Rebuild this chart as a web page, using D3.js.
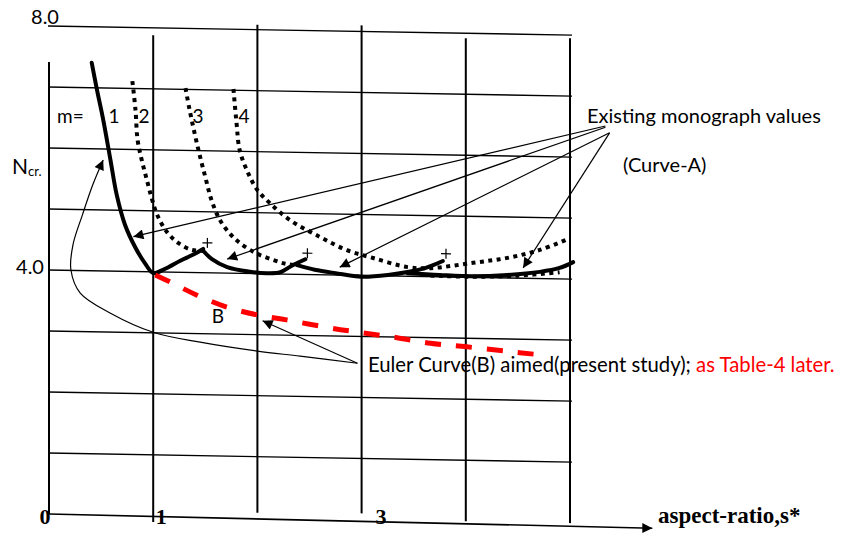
<!DOCTYPE html>
<html>
<head>
<meta charset="utf-8">
<script src="https://cdn.jsdelivr.net/npm/d3@7"></script>
<style>
  body { margin: 0; background: #fff; }
  svg { display: block; }
</style>
</head>
<body>
<svg id="chart" width="847" height="534"></svg>
<script>
// grid
var gridN = [1, 2, 3, 4, 5, 6, 7, 8];
var gridS = [0, 1, 2, 3, 4, 5];
var gridTop = [7.41, 7.88, 8.08, 8.1, 7.92, 7.95];
var gridBottom = [0, -0.1, 0.08, 0.1, 0, 0];

// Curve-A, solid envelope pieces (s*, Ncr)
var solidM1 = [[0.41, 7.41], [0.46, 6.97], [0.52, 6.48], [0.59, 5.82], [0.65, 5.25], [0.73, 4.76],
  [0.83, 4.39], [0.92, 4.14], [1.0, 3.98], [1.11, 4.05], [1.26, 4.19], [1.38, 4.29], [1.48, 4.39]];
var solidM2 = [[1.48, 4.36], [1.56, 4.23], [1.71, 4.10], [1.93, 4.03], [2.09, 4.01], [2.22, 4.03],
  [2.33, 4.14], [2.46, 4.25]];
var solidM3 = [[2.38, 4.15], [2.55, 4.08], [2.75, 4.03], [3.0, 3.98], [3.27, 4.02], [3.44, 4.07],
  [3.61, 4.14], [3.78, 4.26]];
var solidM4 = [[3.44, 4.05], [3.75, 4.03], [4.07, 4.02], [4.40, 4.05], [4.71, 4.11], [4.90, 4.18], [5.03, 4.28]];

// dotted m-curves
var dotM2 = [[0.80, 7.12], [0.83, 6.65], [0.85, 6.16], [0.89, 5.83], [0.94, 5.50], [0.99, 5.18],
  [1.04, 4.93], [1.13, 4.66], [1.24, 4.48], [1.37, 4.37], [1.48, 4.36]];
var dotM3 = [[1.31, 7.02], [1.35, 6.66], [1.43, 6.04], [1.50, 5.57], [1.56, 5.19], [1.64, 4.87],
  [1.74, 4.64], [1.83, 4.50], [1.98, 4.34], [2.15, 4.23], [2.27, 4.17], [2.38, 4.15]];
var dotM4 = [[1.77, 7.02], [1.80, 6.46], [1.83, 6.02], [1.91, 5.65], [2.0, 5.37], [2.12, 5.16],
  [2.31, 4.89], [2.60, 4.62], [2.86, 4.41], [3.11, 4.29], [3.44, 4.15], [3.66, 4.14],
  [4.07, 4.24], [4.40, 4.33], [4.71, 4.47], [5.0, 4.67]];
var dotM5 = [[3.66, 4.02], [4.01, 4.01], [4.49, 4.04], [4.90, 4.11]];

// Euler curve B (present study)
var eulerB = [[1.02, 3.95], [1.16, 3.84], [1.42, 3.63], [1.71, 3.44], [2.01, 3.32], [2.28, 3.25],
  [2.70, 3.13], [3.01, 3.06], [3.34, 2.99], [3.66, 2.91], [4.01, 2.86], [4.45, 2.79], [4.65, 2.76]];

// intersections marked "+"
var plusPts = [[1.52, 4.49], [2.48, 4.35], [3.81, 4.38]];

// annotation leaders
var monoFrom = [[5.34, 6.52], [5.34, 6.50], [5.38, 6.41], [5.38, 6.41]];
var monoTo = [[0.81, 4.57], [1.71, 4.23], [2.79, 4.13], [4.55, 4.17]];
var eulerFrom = [2.96, 2.56];
var eulerTo = [2.05, 3.23];
var eulerLoop = [[2.96, 2.56], [2.41, 2.66], [2.0, 2.73], [1.45, 2.86], [1.0, 3.01], [0.59, 3.31],
  [0.30, 3.63], [0.21, 4.01], [0.23, 4.42], [0.32, 4.91], [0.42, 5.41], [0.52, 5.82]];
var axisEnd = [5.79, -0.06];

var yTicks = [{ v: 8, t: "8.0" }, { v: 4, t: "4.0" }];
var xTicks = [{ v: 0, t: "0" }, { v: 1, t: "1" }, { v: 3, t: "3" }];
var mLabels = ["1", "2", "3", "4"];

var svg = d3.select("#chart");
var x = d3.scaleLinear().domain([0, 5]).range([49, 570]);
var y = d3.scaleLinear().domain([0, 8]).range([514, 26]);

// the scanned grid leans a little, so skew the plot group
var k = 0.0175;
var plot = svg.append("g")
  .attr("transform", "matrix(1," + k + ",0,1,0," + (-k * x(0)) + ")");

var defs = svg.append("defs");
defs.append("marker")
  .attr("id", "head")
  .attr("viewBox", "0 0 10 10")
  .attr("refX", 10).attr("refY", 5)
  .attr("markerUnits", "userSpaceOnUse")
  .attr("markerWidth", 13).attr("markerHeight", 10)
  .attr("orient", "auto")
  .append("path").attr("d", "M0,0L10,5L0,10z").attr("fill", "#000");

var line = d3.line()
  .x(function (d) { return x(d[0]); })
  .y(function (d) { return y(d[1]); })
  .curve(d3.curveCatmullRom);

// horizontal grid lines
plot.selectAll(".hgrid").data(gridN).enter().append("line")
  .attr("class", "hgrid")
  .attr("x1", x(0) - 1).attr("x2", x(5) + 2)
  .attr("y1", function (d) { return y(d); })
  .attr("y2", function (d) { return y(d); })
  .attr("stroke", "#000").attr("stroke-width", 1.4);

// vertical grid lines
plot.selectAll(".vgrid").data(gridS).enter().append("line")
  .attr("class", "vgrid")
  .attr("x1", function (d) { return x(d); })
  .attr("x2", function (d) { return x(d); })
  .attr("y1", function (d, i) { return y(gridTop[i]); })
  .attr("y2", function (d, i) { return y(gridBottom[i]); })
  .attr("stroke", "#000").attr("stroke-width", 2);

// x axis with arrow
plot.append("line")
  .attr("x1", x(0)).attr("y1", y(0))
  .attr("x2", x(axisEnd[0])).attr("y2", y(axisEnd[1]))
  .attr("stroke", "#000").attr("stroke-width", 1.6)
  .attr("marker-end", "url(#head)");

// dotted curves
plot.selectAll(".dotted").data([dotM2, dotM3, dotM4, dotM5]).enter().append("path")
  .attr("class", "dotted")
  .attr("d", line)
  .attr("fill", "none").attr("stroke", "#000")
  .attr("stroke-width", 4).attr("stroke-dasharray", "4,4.5");

// solid envelope
plot.selectAll(".solid").data([solidM1, solidM2, solidM3, solidM4]).enter().append("path")
  .attr("class", "solid")
  .attr("d", line)
  .attr("fill", "none").attr("stroke", "#000")
  .attr("stroke-width", 4).attr("stroke-linecap", "round");

// Euler curve B
plot.append("path")
  .datum(eulerB)
  .attr("d", line)
  .attr("fill", "none").attr("stroke", "#ff0000")
  .attr("stroke-width", 5).attr("stroke-dasharray", "16,15");

// + marks
plot.selectAll(".plus").data(plusPts).enter().append("path")
  .attr("class", "plus")
  .attr("d", function (d) {
    var px = x(d[0]), py = y(d[1]);
    return "M" + (px - 5) + "," + py + "H" + (px + 5) + "M" + px + "," + (py - 5) + "V" + (py + 5);
  })
  .attr("stroke", "#000").attr("stroke-width", 1.2);

// leaders to Curve-A
plot.selectAll(".lead").data(monoTo).enter().append("line")
  .attr("class", "lead")
  .attr("x1", function (d, i) { return x(monoFrom[i][0]); })
  .attr("y1", function (d, i) { return y(monoFrom[i][1]); })
  .attr("x2", function (d) { return x(d[0]); })
  .attr("y2", function (d) { return y(d[1]); })
  .attr("stroke", "#000").attr("stroke-width", 1.2)
  .attr("marker-end", "url(#head)");

// leaders from Euler label
plot.append("line")
  .attr("x1", x(eulerFrom[0])).attr("y1", y(eulerFrom[1]))
  .attr("x2", x(eulerTo[0])).attr("y2", y(eulerTo[1]))
  .attr("stroke", "#000").attr("stroke-width", 1.2)
  .attr("marker-end", "url(#head)");

plot.append("path")
  .datum(eulerLoop)
  .attr("d", line)
  .attr("fill", "none").attr("stroke", "#000").attr("stroke-width", 1.2)
  .attr("marker-end", "url(#head)");

// texts
var sans = "Lato, 'Open Sans', sans-serif";
var serif = "'Liberation Serif', 'Times New Roman', serif";

svg.selectAll(".ytick").data(yTicks).enter().append("text")
  .attr("class", "ytick")
  .attr("x", function (d) { return d.v === 8 ? 45 : 30; })
  .attr("y", function (d) { return y(d.v) + (d.v === 8 ? -2 : 4); })
  .attr("text-anchor", "middle")
  .attr("font-family", sans).attr("font-size", 20)
  .text(function (d) { return d.t; });

svg.selectAll(".xtick").data(xTicks).enter().append("text")
  .attr("class", "xtick")
  .attr("x", function (d) { return d.v === 3 ? 381 : x(d.v) + (d.v === 0 ? -4 : 8); })
  .attr("y", 524)
  .attr("text-anchor", "middle")
  .attr("font-family", serif).attr("font-weight", "bold").attr("font-size", 22)
  .text(function (d) { return d.t; });

svg.append("text")
  .attr("x", 658).attr("y", 523)
  .attr("font-family", serif).attr("font-weight", "bold").attr("font-size", 23)
  .text("aspect-ratio,s*");

var nLab = svg.append("text")
  .attr("x", 12).attr("y", 174)
  .attr("font-family", sans).attr("font-size", 21);
nLab.append("tspan").text("N");
nLab.append("tspan").attr("font-size", 13).attr("dy", 2).text("cr.");

svg.append("text")
  .attr("x", 57).attr("y", 123)
  .attr("font-family", sans).attr("font-size", 19)
  .text("m=");

svg.selectAll(".mlab").data(mLabels).enter().append("text")
  .attr("class", "mlab")
  .attr("x", function (d, i) { return [114, 144, 198, 244][i]; })
  .attr("y", 123)
  .attr("text-anchor", "middle")
  .attr("font-family", sans).attr("font-size", 19)
  .text(function (d) { return d; });

svg.append("text")
  .attr("x", 218).attr("y", 323)
  .attr("text-anchor", "middle")
  .attr("font-family", sans).attr("font-size", 19)
  .text("B");

svg.append("text")
  .attr("x", 587).attr("y", 123)
  .attr("font-family", sans).attr("font-size", 20)
  .text("Existing monograph values");

svg.append("text")
  .attr("x", 623).attr("y", 172)
  .attr("font-family", sans).attr("font-size", 20)
  .text("(Curve-A)");

var eLab = svg.append("text")
  .attr("x", 368).attr("y", 372)
  .attr("font-family", sans).attr("font-size", 20.3);
eLab.append("tspan").text("Euler Curve(B) aimed(present study); ");
eLab.append("tspan").attr("fill", "#ff0000").text("as Table-4 later.");
</script>
</body>
</html>
